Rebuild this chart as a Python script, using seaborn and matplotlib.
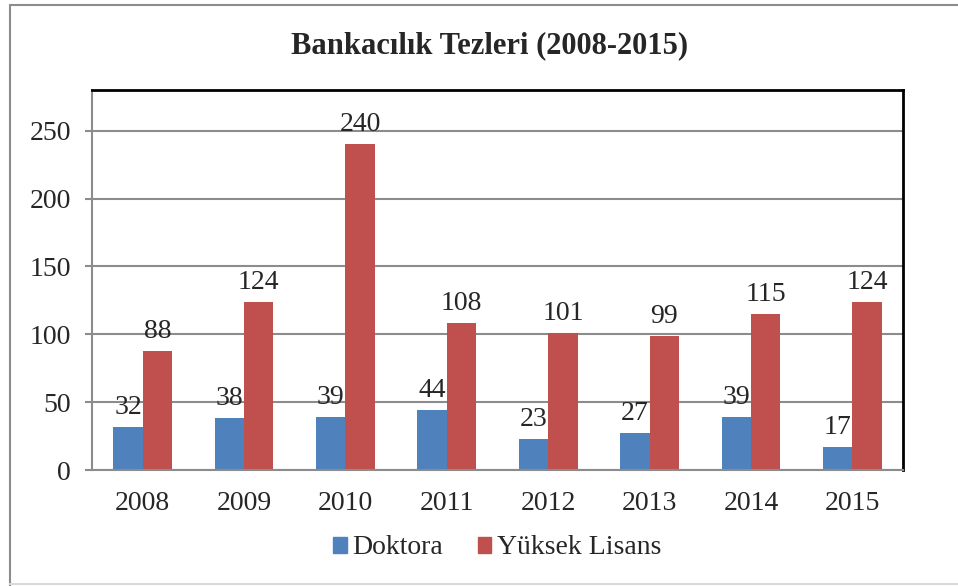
import numpy as np
import pandas as pd
import matplotlib
matplotlib.use('Agg')
import matplotlib.pyplot as plt
from matplotlib.lines import Line2D
import seaborn as sns

years = ['2008', '2009', '2010', '2011', '2012', '2013', '2014', '2015']
doktora = [32, 38, 39, 44, 23, 27, 39, 17]
yuksek_lisans = [88, 124, 240, 108, 101, 99, 115, 124]
series = ['Doktora', 'Yüksek Lisans']
colors = ['#4F81BD', '#C0504D']

df = pd.DataFrame({
    'Yıl': years * 2,
    'Sayı': doktora + yuksek_lisans,
    'Tür': [series[0]] * len(years) + [series[1]] * len(years),
})

sns.set_style('white')
plt.rcParams['font.family'] = ['Liberation Serif', 'DejaVu Serif']
fs = 20

fig = plt.figure(figsize=(9.58, 5.86), dpi=100)
ax = fig.add_axes([92/958, 1 - 470/586, (903 - 92)/958, (470 - 90)/586])

sns.barplot(data=df, x='Yıl', y='Sayı', hue='Tür', palette=colors,
            width=0.58, gap=0, saturation=1, linewidth=0, ax=ax, legend=False)

for cont in ax.containers:
    ax.bar_label(cont, fontsize=fs, padding=5)

ax.set_ylim(0, 280)
ax.set_xlim(-0.5, len(years) - 0.5)
ax.set_yticks(range(0, 251, 50))
ax.set_xlabel('')
ax.set_ylabel('')
ax.yaxis.grid(True, color='#8c8c8c', linewidth=1.5)
ax.set_axisbelow(True)

ax.set_xticks(np.arange(-0.5, len(years)), minor=True)
ax.tick_params(axis='x', which='major', length=0, labelsize=fs, pad=15)
ax.tick_params(axis='x', which='minor', length=5, width=1.5, color='#8c8c8c', direction='out')
ax.tick_params(axis='y', length=5, width=1.5, color='#8c8c8c', labelsize=fs, pad=10, direction='out', left=True)

for side in ['left', 'bottom']:
    ax.spines[side].set_color('#8c8c8c')
    ax.spines[side].set_linewidth(1.5)
for side in ['top', 'right']:
    ax.spines[side].set_color('black')
    ax.spines[side].set_linewidth(2)

fig.text(490/958, 1 - 46/586, 'Bankacılık Tezleri (2008-2015)', ha='center', va='center',
         fontsize=22, fontweight='bold')

handles = [plt.Rectangle((0, 0), 1, 1, color=c) for c in colors]
fig.legend(handles, series, loc='center', bbox_to_anchor=(497/958, 1 - 548/586), ncol=2,
           frameon=False, fontsize=fs, handlelength=0.5, handleheight=0.5,
           handletextpad=0.2, columnspacing=1.25)

# outer chart frame
fig.add_artist(Line2D([10/958, 10/958], [0, 1 - 5/586], color='#8c8c8c', lw=1.5))
fig.add_artist(Line2D([10/958, 1], [1 - 5/586, 1 - 5/586], color='#8c8c8c', lw=1.5))
fig.add_artist(Line2D([10/958, 1], [2/586, 2/586], color='#d9d9d9', lw=1.5))

fig.savefig('out.png', dpi=100)
